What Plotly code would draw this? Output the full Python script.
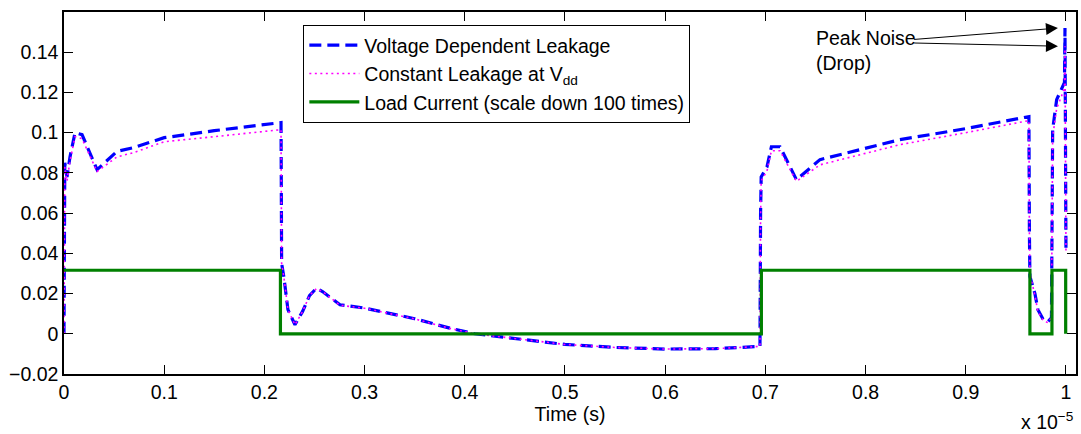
import plotly.graph_objects as go

# ---- data (time in units of 1e-5 s) ----
t = [0, 0.0008, 0.003, 0.006, 0.011, 0.018, 0.033, 0.053, 0.069, 0.1, 0.15, 0.186, 0.2155,
     0.2166, 0.2172, 0.2195, 0.2235, 0.2305, 0.238, 0.245, 0.252, 0.258, 0.2754, 0.3, 0.35,
     0.385, 0.41, 0.45, 0.5, 0.55, 0.6, 0.65, 0.6946,
     0.6952, 0.6958, 0.7016, 0.706, 0.7146, 0.731, 0.7545, 0.834, 0.9, 0.963,
     0.9635, 0.964, 0.969, 0.972, 0.9774, 0.982, 0.9855, 0.9862, 0.9867, 0.9907, 0.9957,
     0.9985, 0.999, 0.9995, 1.0]

voltage_dep = [0, 0.085, 0.078, 0.088, 0.1, 0.099, 0.0816, 0.0907, 0.0925, 0.0975, 0.101, 0.103, 0.105,
               0.105, 0.035, 0.028, 0.012, 0.0045, 0.011, 0.019, 0.0227, 0.021, 0.0144, 0.0128, 0.0075,
               0.0028, 0.0, -0.0025, -0.0053, -0.0068, -0.0076, -0.0074, -0.0063,
               0.06, 0.078, 0.083, 0.093, 0.093, 0.0766, 0.0866, 0.0965, 0.102, 0.108,
               0.05, 0.0285, 0.02, 0.012, 0.007, 0.006, 0.008, 0.05, 0.1015, 0.1164, 0.1214,
               0.125, 0.152, 0.1, 0.04]

constant_leak = [0, 0.083, 0.076, 0.086, 0.098, 0.097, 0.0807, 0.088, 0.09, 0.0955, 0.098, 0.1, 0.1015,
                 0.1015, 0.035, 0.028, 0.012, 0.0045, 0.011, 0.019, 0.0225, 0.021, 0.0142, 0.0127, 0.0074,
                 0.0027, 0.0, -0.0025, -0.0053, -0.0068, -0.0076, -0.0074, -0.0063,
                 0.058, 0.076, 0.081, 0.091, 0.091, 0.0758, 0.084, 0.094, 0.1, 0.106,
                 0.05, 0.03, 0.019, 0.011, 0.0065, 0.0055, 0.008, 0.05, 0.098, 0.112, 0.118,
                 0.122, 0.143, 0.1, 0.04]

load_t = [0, 0.216, 0.696, 0.964, 0.986, 0.9997]
load_current = [0.0316, 0, 0.0316, 0, 0.0316, 0]

y_tick_vals = [-0.02, 0, 0.02, 0.04, 0.06, 0.08, 0.1, 0.12, 0.14]
y_tick_text = ["\u22120.02", "0", "0.02", "0.04", "0.06", "0.08", "0.1", "0.12", "0.14"]
x_tick_vals = [0, 0.1, 0.2, 0.3, 0.4, 0.5, 0.6, 0.7, 0.8, 0.9, 1]
x_tick_text = ["0", "0.1", "0.2", "0.3", "0.4", "0.5", "0.6", "0.7", "0.8", "0.9", "1"]

FONT = "Liberation Sans, Arial, Helvetica, sans-serif"

fig = go.Figure()
fig.add_trace(go.Scatter(x=t, y=voltage_dep, mode="lines", name="Voltage Dependent Leakage",
                         line=dict(color="#0000FF", width=3.2, dash="12px,6px")))
fig.add_trace(go.Scatter(x=t, y=constant_leak, mode="lines", name="Constant Leakage at V<sub>dd</sub>",
                         line=dict(color="#FF00FF", width=1.6, dash="2px,3.5px")))
fig.add_trace(go.Scatter(x=load_t, y=load_current, mode="lines", line_shape="hv",
                         name="Load Current (scale down 100 times)",
                         line=dict(color="#008000", width=3.2)))

axis_common = dict(showline=True, linecolor="black", linewidth=1.5, mirror="ticks",
                   ticks="inside", ticklen=9, tickcolor="black", tickwidth=1,
                   showgrid=False, zeroline=False, automargin=False,
                   tickfont=dict(family=FONT, size=19.5, color="black"))

fig.update_xaxes(range=[0, 1.01], tickvals=x_tick_vals, ticktext=x_tick_text,
                 title=dict(text="Time (s)", font=dict(family=FONT, size=19.5, color="black"), standoff=0),
                 **axis_common)
fig.update_yaxes(range=[-0.02, 0.16], tickvals=y_tick_vals, ticktext=y_tick_text, **axis_common)

# arrows to peak noise
i_v = voltage_dep.index(max(voltage_dep))
i_c = constant_leak.index(max(constant_leak))
for xp, yp, ytail in [(t[i_v], voltage_dep[i_v], 0.1463), (t[i_c], constant_leak[i_c], 0.1446)]:
    fig.add_annotation(x=xp - 0.007, y=yp, ax=0.847, ay=ytail, axref="x", ayref="y",
                       xref="x", yref="y", text="", showarrow=True,
                       arrowhead=2, arrowsize=2.4, arrowwidth=1, arrowcolor="black")

fig.add_annotation(x=0.7485, y=0.1408, xref="x", yref="y", text="Peak Noise<br>(Drop)",
                   showarrow=False, xanchor="left", yanchor="middle", align="left",
                   font=dict(family=FONT, size=19.5, color="black"))

fig.add_annotation(x=1.0, y=-0.13, xref="paper", yref="paper", text="x 10<sup>\u22125</sup>",
                   showarrow=False, xanchor="right", yanchor="middle",
                   font=dict(family=FONT, size=19.5, color="black"))

fig.update_layout(
    width=1081, height=434,
    margin=dict(l=64, r=5, t=12, b=60),
    plot_bgcolor="white", paper_bgcolor="white",
    font=dict(family=FONT, size=19.5, color="black"),
    legend=dict(x=0.2365, y=0.964, xanchor="left", yanchor="top",
                bgcolor="white", bordercolor="black", borderwidth=1,
                font=dict(family=FONT, size=19.5, color="black"),
                tracegroupgap=0, itemwidth=50),
    showlegend=True,
)

fig.write_html("out.html", config={"displayModeBar": False},
               post_script="document.body.style.margin='0';document.body.style.padding='0';")
